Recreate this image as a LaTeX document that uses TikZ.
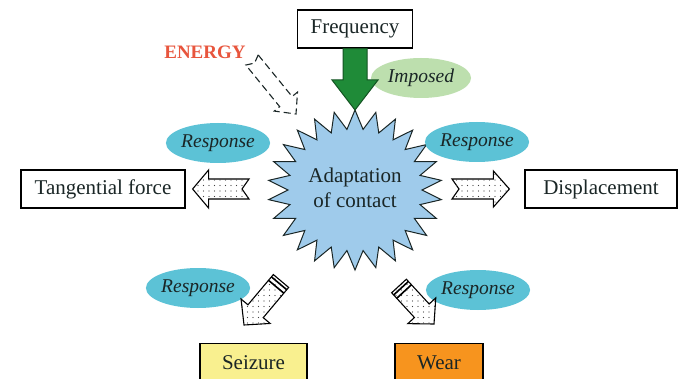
\documentclass[tikz,border=0pt]{standalone}
\usepackage{fontspec}
\setmainfont{Liberation Serif}
\usetikzlibrary{calc,shapes.geometric,patterns.meta}
\definecolor{txt}{HTML}{1A2626}
\definecolor{teal}{HTML}{5CC2D6}
\definecolor{lgreen}{HTML}{BDDFAE}
\definecolor{starblue}{HTML}{9FCBEB}
\definecolor{dgreen}{HTML}{1F8B38}
\definecolor{seiz}{HTML}{F9F08F}
\definecolor{wear}{HTML}{F7941E}
\definecolor{energy}{HTML}{E8553D}
\tikzset{
  labelbox/.style={draw=black, line width=1.2pt, fill=white, minimum height=38pt, inner sep=0pt, text=txt, font=\fontsize{21}{24}\selectfont},
  respell/.style={ellipse, fill=teal, minimum width=102pt, minimum height=40pt, inner sep=0pt, text=txt, font=\fontsize{19.5}{22}\selectfont\itshape},
  dotarrow/.style={draw=black, line width=1.1pt, line join=miter, fill=white, postaction={pattern={Dots[distance=5.5pt, radius=0.7pt]}, pattern color=black!75}},
}
% #1 style, #2 tail, #3 tip, #4 shaft half width, #5 head half width, #6 head length, #7 notch depth
\newcommand\blockarr[7]{%
  \path[#1] ($(#2)!#4!90:(#3)$) -- ($(#2)!#7!(#3)$) -- ($(#2)!#4!-90:(#3)$)
   -- ($(#3)!#6!(#2)!#4!90:(#2)$) -- ($(#3)!#6!(#2)!#5!90:(#2)$) -- (#3)
   -- ($(#3)!#6!(#2)!#5!-90:(#2)$) -- ($(#3)!#6!(#2)!#4!-90:(#2)$) -- cycle;}
\begin{document}
\begin{tikzpicture}[x=1pt,y=1pt]
\useasboundingbox (0,0) rectangle (685,378);
\fill[white] (0,0) rectangle (685,378);

% starburst
\draw[fill=starblue, draw=txt, line width=1pt, line join=miter]
  (355,268) \foreach \i in {0,...,25} {
    -- ({355+87*cos(\i*360/26+90)},{188+80*sin(\i*360/26+90)})
    -- ({355+67*cos(\i*360/26+90+360/52)},{188+61*sin(\i*360/26+90+360/52)})
  } -- cycle;
\node[align=center, text=txt, font=\fontsize{21}{25}\selectfont] (adapt) at (355,190) {Adaptation\\of contact};

% boxes
\node[labelbox, minimum width=115pt] (freq) at (355,349) {Frequency};
\node[labelbox, minimum width=164pt] (tang) at (103,189) {Tangential force};
\node[labelbox, minimum width=152pt] (disp) at (601,189) {Displacement};
\node[labelbox, minimum width=107pt, minimum height=42pt, fill=seiz, anchor=north] (seiz) at (253.5,35) {\raisebox{4pt}{Seizure}};
\node[labelbox, minimum width=88pt, minimum height=42pt, fill=wear, anchor=north] (wear) at (439,35) {\raisebox{4pt}{Wear}};

% ellipses
\node[respell, fill=lgreen, minimum width=100pt] (imp) at (421,300) {Imposed};
\node[respell] (r1) at (218,235) {Response};
\node[respell] (r2) at (477,236) {Response};
\node[respell] (r3) at (198,90) {Response};
\node[respell] (r4) at (478,88) {Response};

% energy
\node[text=energy, font=\fontsize{19}{22}\selectfont\bfseries] (energy) at (205,326) {ENERGY};

% arrows
\coordinate (gtail) at (freq.south);
\coordinate (gtip) at (355,268);
\blockarr{fill=dgreen, draw=dgreen!60!black, line width=1pt}{gtail}{gtip}{12pt}{23pt}{30pt}{0pt}

\coordinate (etail) at (252,318);
\coordinate (etip) at (296,264);
\blockarr{draw=txt, line width=1.1pt, dash pattern=on 7pt off 4pt}{etail}{etip}{8pt}{15pt}{16pt}{4pt}

\coordinate (ltail) at (249,189);
\coordinate (ltip) at ($(tang.east)+(7,0)$);
\blockarr{dotarrow}{ltail}{ltip}{10pt}{19pt}{16pt}{7pt}

\coordinate (rtail) at (452,189);
\coordinate (rtip) at ($(disp.west)+(-15,0)$);
\blockarr{dotarrow}{rtail}{rtip}{10pt}{18pt}{16pt}{7pt}

\coordinate (bltail) at (281,97);
\coordinate (bltip) at (244,53);
\blockarr{dotarrow}{bltail}{bltip}{10pt}{19pt}{18pt}{0pt}
\draw[line width=1.6pt] ($(bltail)!3pt!(bltip)!10pt!90:(bltip)$) -- ($(bltail)!3pt!(bltip)!10pt!-90:(bltip)$);
\draw[line width=1.6pt] ($(bltail)!7.5pt!(bltip)!10pt!90:(bltip)$) -- ($(bltail)!7.5pt!(bltip)!10pt!-90:(bltip)$);

\coordinate (brtail) at (399,92);
\coordinate (brtip) at (434,54);
\blockarr{dotarrow}{brtail}{brtip}{10pt}{19pt}{18pt}{0pt}
\draw[line width=1.6pt] ($(brtail)!3pt!(brtip)!10pt!90:(brtip)$) -- ($(brtail)!3pt!(brtip)!10pt!-90:(brtip)$);
\draw[line width=1.6pt] ($(brtail)!7.5pt!(brtip)!10pt!90:(brtip)$) -- ($(brtail)!7.5pt!(brtip)!10pt!-90:(brtip)$);
\end{tikzpicture}
\end{document}
